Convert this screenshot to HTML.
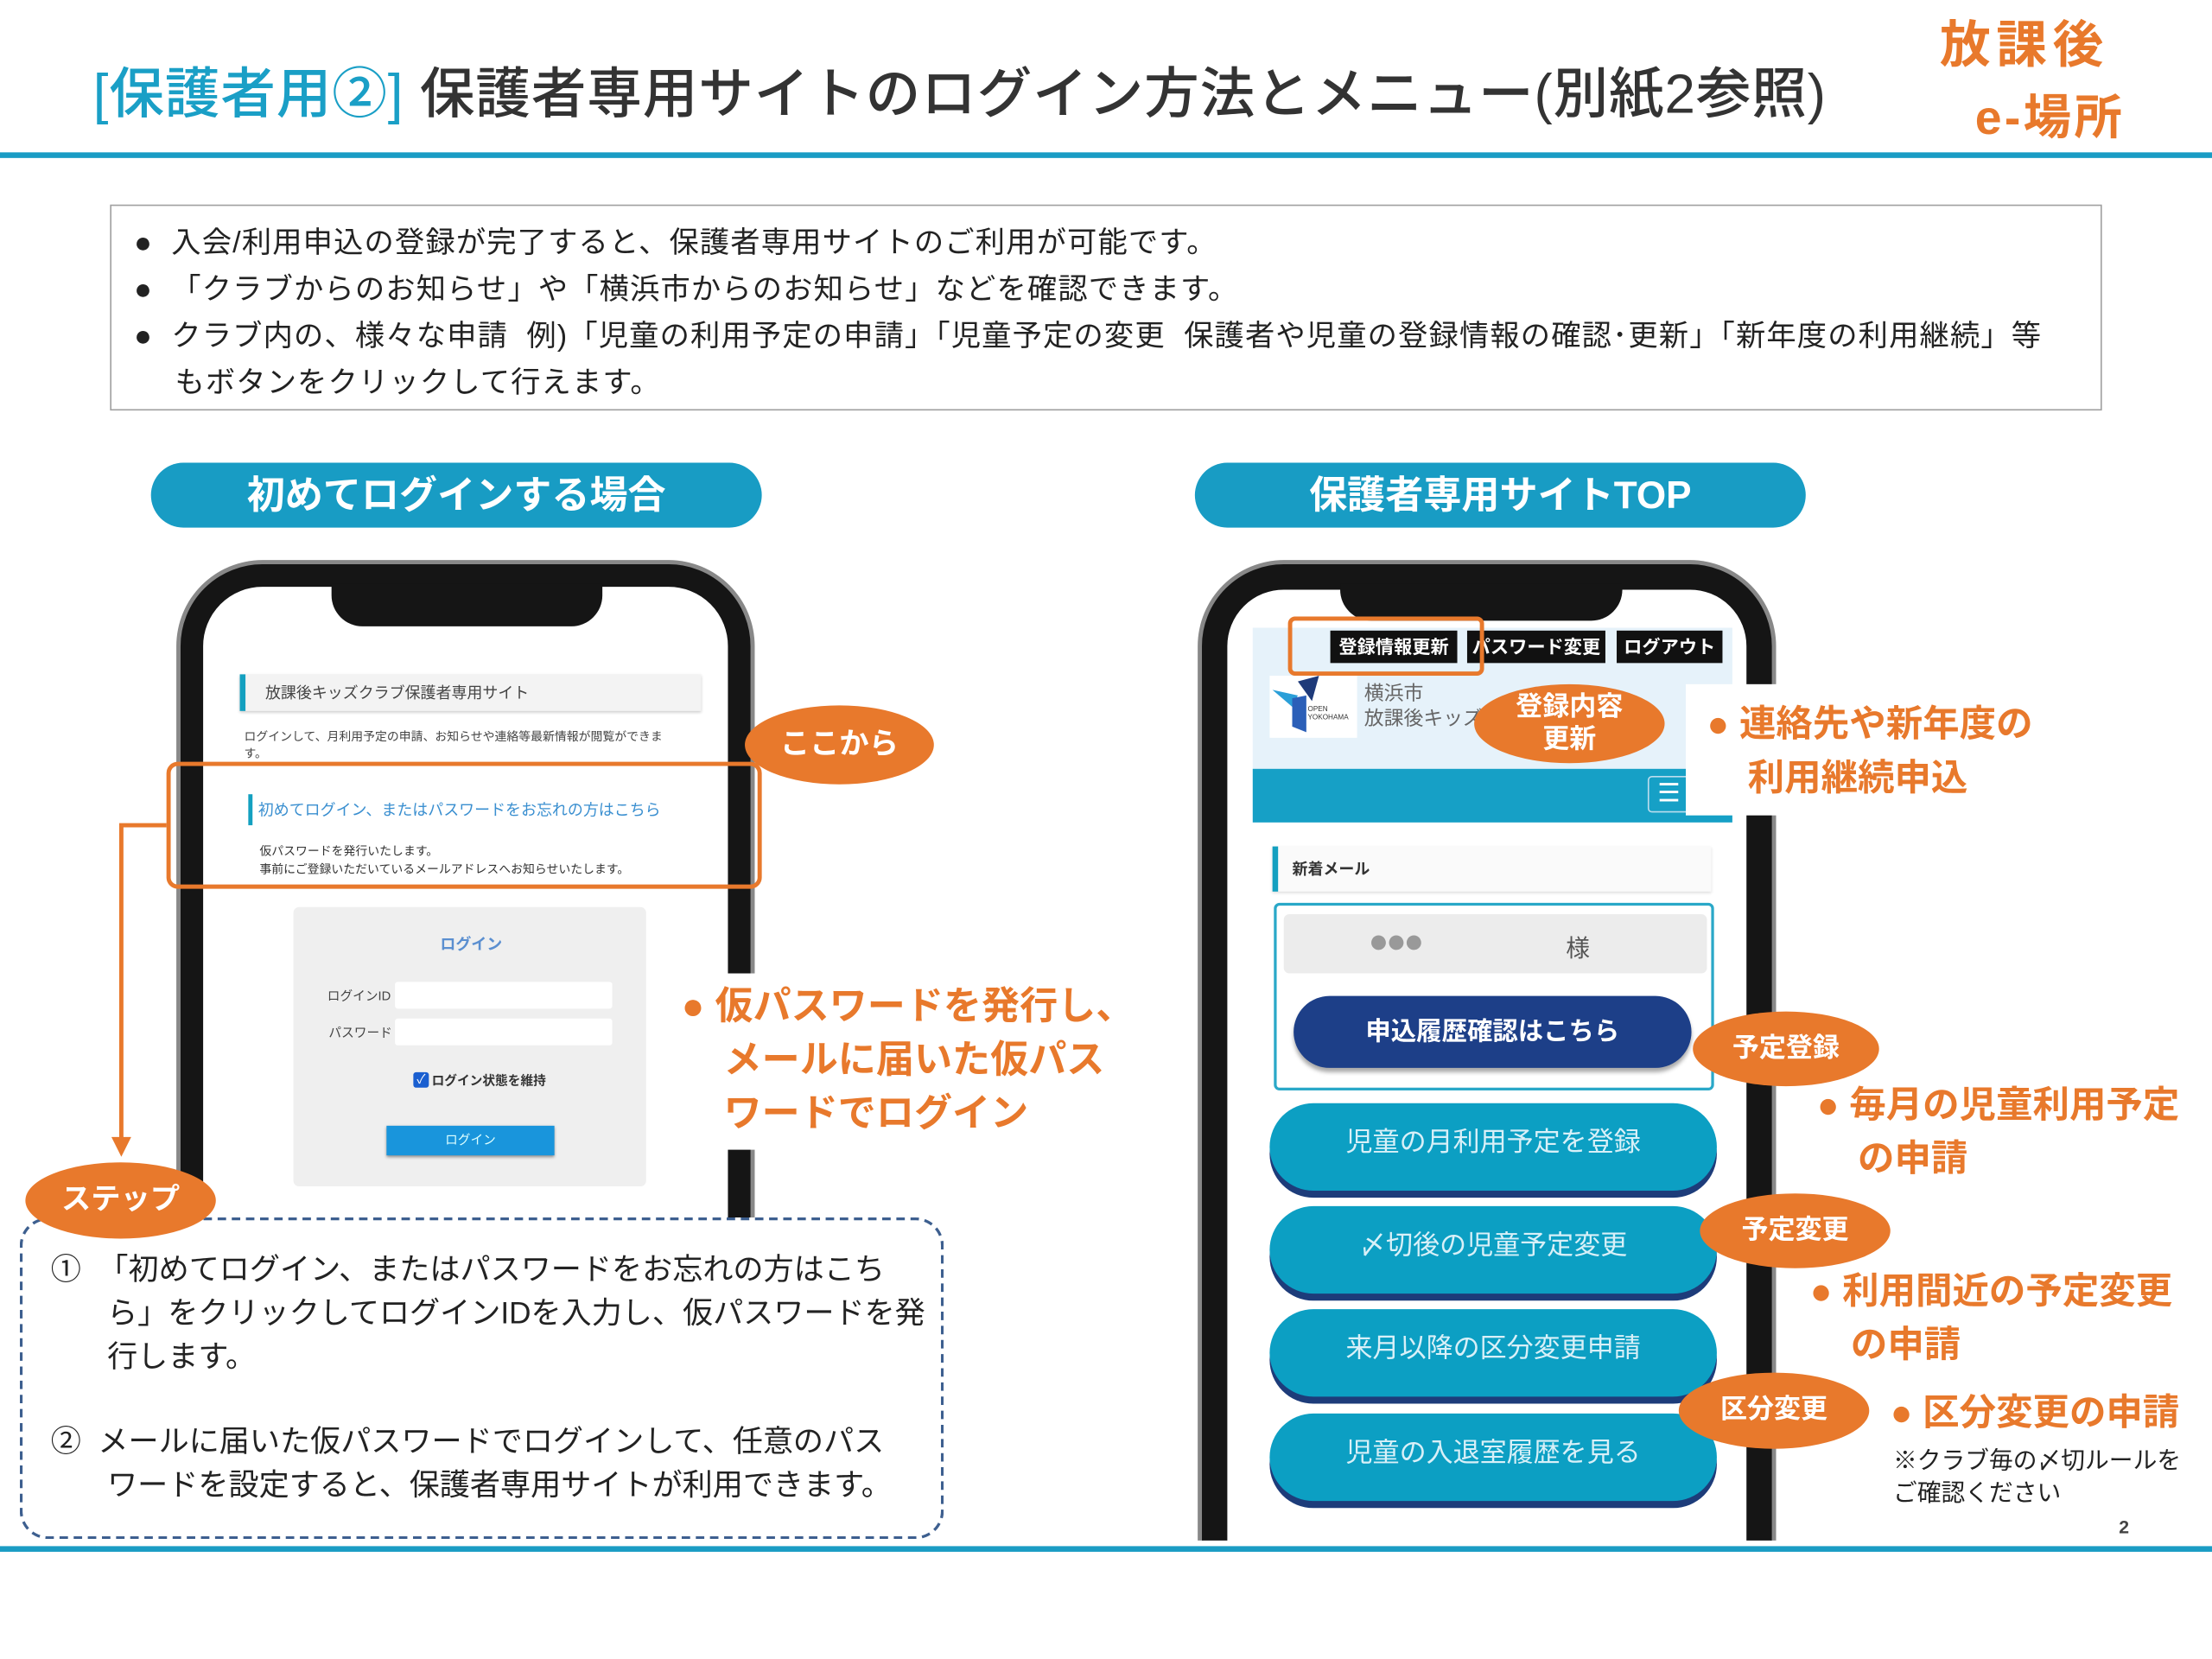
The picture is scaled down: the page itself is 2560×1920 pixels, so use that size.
<!DOCTYPE html>
<html><head><meta charset="utf-8">
<style>
*{margin:0;padding:0;box-sizing:border-box}
html,body{width:2560px;height:1920px;overflow:hidden;background:#fff}
#w{position:absolute;left:0;top:0;width:1568px;height:1176px;transform:scale(1.63265);transform-origin:0 0;font-family:"Liberation Sans","Noto Sans CJK JP",sans-serif;color:#222}
.a{position:absolute}
.t{position:absolute;white-space:nowrap}
.pill{position:absolute;background:#189cc4;color:#fff;border-radius:23px;font-size:27px;font-weight:bold;text-align:center;line-height:46px}
.ell{position:absolute;background:#e8792c;color:#fff;border-radius:50%;text-align:center;font-weight:bold}
.og{color:#e8792c;font-weight:bold}
.btn{position:absolute;left:900px;width:317px;height:62px;border-radius:31px;background:#0c9fc3;box-shadow:0 5px 0 #1d3c7a;color:#d8f0f8;font-size:19px;text-align:center;line-height:58px}
</style></head><body><div id="w">
<!-- header -->
<div class="t" style="left:66px;top:44px;font-size:39px;font-weight:500;line-height:48px;letter-spacing:0.5px"><span style="color:#1a9fc6">[保護者用②]</span> <span style="color:#333">保護者専用サイトのログイン方法とメニュー(別紙2参照)</span></div>
<div class="t og" style="left:1375px;top:12px;font-size:36px;line-height:40px;letter-spacing:4px">放課後</div>
<div class="t og" style="left:1400px;top:64px;font-size:34px;line-height:40px;letter-spacing:2px">e-場所</div>
<div class="a" style="left:0;top:108px;width:1568px;height:4px;background:#1a9cc4"></div>
<!-- info box -->
<div class="a" style="left:78px;top:145px;width:1412px;height:146px;border:1.5px solid #a0a0a0"></div>
<div class="a" style="left:95px;top:156px;font-size:21px;line-height:33px;color:#222;letter-spacing:0.7px">
<div>●&nbsp; 入会/利用申込の登録が完了すると、保護者専用サイトのご利用が可能です。</div>
<div>●&nbsp; 「クラブからのお知らせ」や「横浜市からのお知らせ」などを確認できます。</div>
<div>●&nbsp; クラブ内の、様々な申請&nbsp; 例)「児童の利用予定の申請」「児童予定の変更&nbsp; 保護者や児童の登録情報の確認･更新」「新年度の利用継続」等</div>
<div style="padding-left:29px">もボタンをクリックして行えます。</div>
</div>
<div class="pill" style="left:107px;top:328px;width:433px">初めてログインする場合</div>
<div class="pill" style="left:847px;top:328px;width:433px">保護者専用サイトTOP</div>

<!-- left phone -->
<div class="a" style="left:128px;top:400px;width:404px;height:520px;border:16px solid #151515;border-radius:58px;background:#fff;box-shadow:0 0 0 3px #888"></div>
<div class="a" style="left:235px;top:414px;width:192px;height:30px;background:#151515;border-radius:0 0 22px 22px"></div>
<div class="a" style="left:170px;top:478px;width:327px;height:26px;background:#f3f3f3;border-left:4px solid #14a0c0;box-shadow:0 1px 2px #ccc"></div>
<div class="t" style="left:188px;top:483px;font-size:11px;color:#444">放課後キッズクラブ保護者専用サイト</div>
<div class="t" style="left:173px;top:516px;font-size:8.5px;color:#444">ログインして、月利用予定の申請、お知らせや連絡等最新情報が閲覧ができま<br>す。</div>
<div class="a" style="left:176px;top:563px;width:3px;height:22px;background:#14a0c0"></div>
<div class="t" style="left:183px;top:566px;font-size:11px;color:#3a8fd0">初めてログイン、またはパスワードをお忘れの方はこちら</div>
<div class="t" style="left:184px;top:597px;font-size:8.5px;color:#333;line-height:13px">仮パスワードを発行いたします。<br>事前にご登録いただいているメールアドレスへお知らせいたします。</div>
<div class="a" style="left:118px;top:540px;width:422px;height:90px;border:3px solid #e8792c;border-radius:8px"></div>
<div class="a" style="left:208px;top:643px;width:250px;height:198px;background:#efefef;border-radius:4px"></div>
<div class="t" style="left:312px;top:661px;font-size:11px;color:#5b8fd0;font-weight:bold">ログイン</div>
<div class="t" style="left:232px;top:699px;font-size:9px;color:#444">ログインID</div>
<div class="t" style="left:233px;top:725px;font-size:9px;color:#444">パスワード</div>
<div class="a" style="left:280px;top:696px;width:154px;height:19px;background:#fff;border-radius:2px"></div>
<div class="a" style="left:280px;top:722px;width:154px;height:19px;background:#fff;border-radius:2px"></div>
<div class="a" style="left:293px;top:760px;width:11px;height:11px;background:#1a5fd0;border-radius:2px;color:#fff;font-size:9px;line-height:11px;text-align:center">✓</div>
<div class="t" style="left:306px;top:759px;font-size:9px;color:#333;font-weight:bold">ログイン状態を維持</div>
<div class="a" style="left:274px;top:798px;width:119px;height:21px;background:#1995dc;color:#dff;font-size:9px;text-align:center;line-height:21px;box-shadow:0 1px 2px #888">ログイン</div>
<svg class="a" style="left:0;top:0" width="1568" height="1176">
<polygon points="560,520 540,542 580,535" fill="#e8792c"/>
<polyline points="118,585 86,585 86,808" fill="none" stroke="#e8792c" stroke-width="3"/>
<polygon points="79,806 93,806 86,820" fill="#e8792c"/>
<polygon points="1235,760 1185,786 1255,765" fill="#e8792c"/>
<polygon points="1220,885 1188,893 1225,872" fill="#e8792c"/>
<polygon points="1215,985 1163,960 1205,1000" fill="#e8792c"/>
</svg>
<div class="ell" style="left:528px;top:500px;width:134px;height:56px;font-size:21px;line-height:56px">ここから</div>
<div class="a" style="left:478px;top:690px;width:310px;height:125px;background:#fff"></div>
<div class="t og" style="left:483px;top:694px;font-size:27px;line-height:38px">● 仮パスワードを発行し、<br>&nbsp;&nbsp;&nbsp;&nbsp;メールに届いた仮パス<br>&nbsp;&nbsp;&nbsp;&nbsp;ワードでログイン</div>
<!-- step box -->
<div class="a" style="left:14px;top:863px;width:655px;height:228px;border:2px dashed #3d5f8f;border-radius:20px;background:#fff"></div>
<div class="ell" style="left:18px;top:824px;width:135px;height:54px;font-size:21px;line-height:54px">ステップ</div>
<div class="a" style="left:36px;top:885px;font-size:21.5px;line-height:31px;color:#222;white-space:nowrap">
<div>①&nbsp; 「初めてログイン、またはパスワードをお忘れの方はこち</div>
<div style="padding-left:40px">ら」をクリックしてログインIDを入力し、仮パスワードを発</div>
<div style="padding-left:40px">行します。</div>
<div style="height:29px"></div>
<div>②&nbsp; メールに届いた仮パスワードでログインして、任意のパス</div>
<div style="padding-left:40px">ワードを設定すると、保護者専用サイトが利用できます。</div>
</div>

<!-- right phone -->
<div class="a" style="left:845px;top:392px;width:420px;height:700px;overflow:hidden">
<div class="a" style="left:7px;top:8px;width:404px;height:760px;border:18px solid #151515;border-radius:58px;background:#fff;box-shadow:0 0 0 3px #888"></div>
<div class="a" style="left:105px;top:22px;width:200px;height:26px;background:#151515;border-radius:0 0 22px 22px"></div>
</div>
<div class="a" style="left:888px;top:445px;width:340px;height:100px;background:#e6f2fa"></div>
<div class="a" style="left:888px;top:545px;width:340px;height:38px;background:#16a0c6"></div>
<div class="a" style="left:1168px;top:550px;width:30px;height:26px;border:1px solid #bde;border-radius:3px;background:#16a0c6;color:#fff;font-size:18px;line-height:22px;text-align:center">☰</div>
<div class="a" style="left:943px;top:447px;width:90px;height:23px;background:#111;color:#fff;font-size:13px;font-weight:bold;text-align:center;line-height:23px">登録情報更新</div>
<div class="a" style="left:1040px;top:447px;width:98px;height:23px;background:#111;color:#fff;font-size:13px;font-weight:bold;text-align:center;line-height:23px">パスワード変更</div>
<div class="a" style="left:1146px;top:447px;width:75px;height:23px;background:#111;color:#fff;font-size:13px;font-weight:bold;text-align:center;line-height:23px">ログアウト</div>
<div class="a" style="left:913px;top:437px;width:139px;height:42px;border:3px solid #e8792c;border-radius:5px"></div>
<div class="a" style="left:900px;top:479px;width:62px;height:44px;background:#fff"></div>
<svg class="a" style="left:900px;top:479px" width="62" height="44"><polygon points="2,10 20,14 16,22" fill="#2a9fd8"/><polygon points="20,4 35,0 30,18" fill="#1e3a7a"/><polygon points="16,16 26,14 26,40 16,36" fill="#2b5fb8"/></svg>
<div class="t" style="left:927px;top:500px;font-size:5px;color:#333">OPEN<br>YOKOHAMA</div>
<div class="t" style="left:967px;top:482px;font-size:14px;color:#666;line-height:18px">横浜市<br>放課後キッズ</div>
<div class="ell" style="left:1045px;top:485px;width:135px;height:56px;font-size:19px;line-height:23px;padding-top:5px">登録内容<br>更新</div>
<div class="a" style="left:1195px;top:485px;width:280px;height:93px;background:#fff"></div>
<div class="t og" style="left:1210px;top:494px;font-size:26px;line-height:38px">● 連絡先や新年度の<br>&nbsp;&nbsp;&nbsp;&nbsp;利用継続申込</div>
<div class="a" style="left:902px;top:600px;width:311px;height:32px;background:#fafafa;border-left:4px solid #14a0c0;box-shadow:0 1px 2px #ddd"></div>
<div class="t" style="left:916px;top:608px;font-size:11px;font-weight:bold;color:#333">新着メール</div>
<div class="a" style="left:903px;top:640px;width:312px;height:133px;border:2.5px solid #2aa8c8;border-radius:4px"></div>
<div class="a" style="left:910px;top:648px;width:300px;height:42px;background:#ececec;border-radius:4px"></div>
<div class="t" style="left:970px;top:654px;font-size:24px;color:#999;letter-spacing:-2px">●●●</div>
<div class="t" style="left:1110px;top:658px;font-size:17px;color:#555">様</div>
<div class="a" style="left:917px;top:706px;width:282px;height:51px;background:#1d3f88;border-radius:26px;color:#fff;font-size:18px;font-weight:bold;text-align:center;line-height:51px;box-shadow:0 3px 3px #aaa">申込履歴確認はこちら</div>
<div class="btn" style="top:782px">児童の月利用予定を登録</div>
<div class="btn" style="top:855px">〆切後の児童予定変更</div>
<div class="btn" style="top:928px">来月以降の区分変更申請</div>
<div class="btn" style="top:1002px">児童の入退室履歴を見る</div>
<div class="ell" style="left:1200px;top:717px;width:132px;height:53px;font-size:19px;line-height:53px">予定登録</div>
<div class="ell" style="left:1205px;top:846px;width:135px;height:53px;font-size:19px;line-height:53px">予定変更</div>
<div class="ell" style="left:1190px;top:973px;width:135px;height:54px;font-size:19px;line-height:54px">区分変更</div>
<div class="t og" style="left:1288px;top:764px;font-size:26px;line-height:38px">● 毎月の児童利用予定<br>&nbsp;&nbsp;&nbsp;&nbsp;の申請</div>
<div class="t og" style="left:1283px;top:896px;font-size:26px;line-height:38px">● 利用間近の予定変更<br>&nbsp;&nbsp;&nbsp;&nbsp;の申請</div>
<div class="t og" style="left:1340px;top:982px;font-size:26px;line-height:38px">● 区分変更の申請</div>
<div class="t" style="left:1342px;top:1024px;font-size:17px;line-height:23px;color:#222">※クラブ毎の〆切ルールを<br>ご確認ください</div>
<div class="t" style="left:1502px;top:1075px;font-size:13px;font-weight:bold;color:#444">2</div>
<div class="a" style="left:0;top:1096px;width:1568px;height:4px;background:#1a9cc4"></div>
</div></body></html>
